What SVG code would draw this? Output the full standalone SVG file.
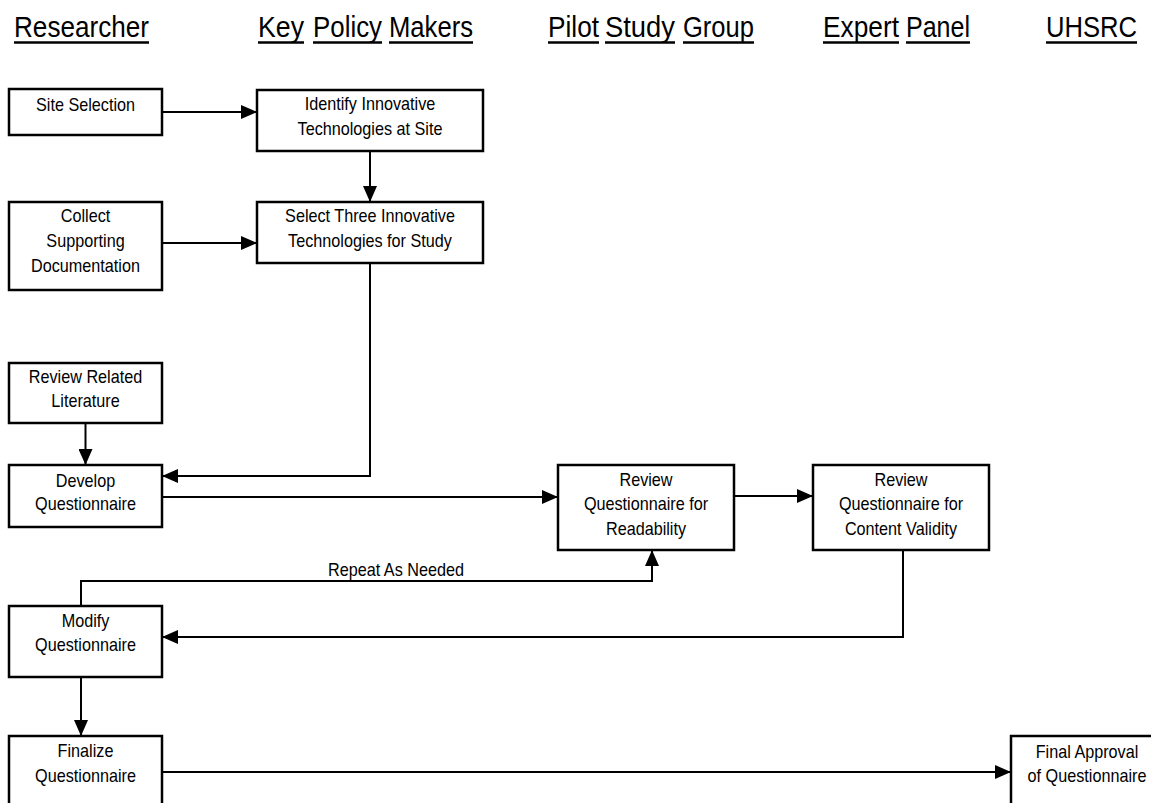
<svg xmlns="http://www.w3.org/2000/svg" width="1151" height="803" viewBox="0 0 1151 803">
  <style>
    .hdr { font-family: "Liberation Sans", Arial, sans-serif; font-size: 29px; fill: #000; }
    .ul { stroke: #000; stroke-width: 2.5; }
    .box { fill: #fff; stroke: #000; stroke-width: 2.5; }
    .lbl { font-family: "Liberation Sans", Arial, sans-serif; font-size: 18px; fill: #000; text-anchor: middle; }
    .edge { fill: none; stroke: #000; stroke-width: 2; }
  </style>
  <defs>
    <marker id="arrow" viewBox="0 0 16 14" refX="16" refY="7" markerWidth="16" markerHeight="14" markerUnits="userSpaceOnUse" orient="auto">
      <path d="M0,0 L16,7 L0,14 z" fill="#000"/>
    </marker>
  </defs>

  <rect width="1151" height="803" fill="#fff"/>

  <!-- swimlane headings, each word underlined on its own -->
  <g id="headers">
    <text class="hdr" x="14" y="37" textLength="135" lengthAdjust="spacingAndGlyphs">Researcher</text>
    <line class="ul" x1="14" y1="42.5" x2="149" y2="42.5"/>
    <text class="hdr" x="258" y="37" textLength="46" lengthAdjust="spacingAndGlyphs">Key</text>
    <line class="ul" x1="258" y1="42.5" x2="304" y2="42.5"/>
    <text class="hdr" x="313" y="37" textLength="69" lengthAdjust="spacingAndGlyphs">Policy</text>
    <line class="ul" x1="313" y1="42.5" x2="382" y2="42.5"/>
    <text class="hdr" x="389" y="37" textLength="84" lengthAdjust="spacingAndGlyphs">Makers</text>
    <line class="ul" x1="389" y1="42.5" x2="473" y2="42.5"/>
    <text class="hdr" x="548" y="37" textLength="51" lengthAdjust="spacingAndGlyphs">Pilot</text>
    <line class="ul" x1="548" y1="42.5" x2="599" y2="42.5"/>
    <text class="hdr" x="605" y="37" textLength="70" lengthAdjust="spacingAndGlyphs">Study</text>
    <line class="ul" x1="605" y1="42.5" x2="675" y2="42.5"/>
    <text class="hdr" x="683" y="37" textLength="71" lengthAdjust="spacingAndGlyphs">Group</text>
    <line class="ul" x1="683" y1="42.5" x2="754" y2="42.5"/>
    <text class="hdr" x="823" y="37" textLength="76" lengthAdjust="spacingAndGlyphs">Expert</text>
    <line class="ul" x1="823" y1="42.5" x2="899" y2="42.5"/>
    <text class="hdr" x="906" y="37" textLength="64" lengthAdjust="spacingAndGlyphs">Panel</text>
    <line class="ul" x1="906" y1="42.5" x2="970" y2="42.5"/>
    <text class="hdr" x="1046" y="37" textLength="91" lengthAdjust="spacingAndGlyphs">UHSRC</text>
    <line class="ul" x1="1046" y1="42.5" x2="1137" y2="42.5"/>
  </g>

  <!-- connectors -->
  <g id="connectors">
    <path class="edge" d="M162,112 H257" marker-end="url(#arrow)"/>
    <path class="edge" d="M370,151 V202" marker-end="url(#arrow)"/>
    <path class="edge" d="M162,243 H257" marker-end="url(#arrow)"/>
    <path class="edge" d="M370,263 V476 H162" marker-end="url(#arrow)"/>
    <path class="edge" d="M85.5,423 V465" marker-end="url(#arrow)"/>
    <path class="edge" d="M162,497 H558" marker-end="url(#arrow)"/>
    <path class="edge" d="M734,496 H813" marker-end="url(#arrow)"/>
    <path class="edge" d="M81,606 V581 H652 V550" marker-end="url(#arrow)"/>
    <path class="edge" d="M903,550 V637 H162" marker-end="url(#arrow)"/>
    <path class="edge" d="M81,677 V736" marker-end="url(#arrow)"/>
    <path class="edge" d="M162,772 H1011" marker-end="url(#arrow)"/>
    <text class="lbl" transform="translate(396 0) scale(0.9 1)" x="0" y="576">Repeat As Needed</text>
  </g>

  <g id="site-selection">
    <rect class="box" x="9" y="89" width="153" height="46"/>
    <text class="lbl" transform="translate(85.5 0) scale(0.9 1)" x="0" y="111">Site Selection</text>
  </g>

  <g id="identify-technologies">
    <rect class="box" x="257" y="90" width="226" height="61"/>
    <text class="lbl" transform="translate(370 0) scale(0.9 1)"><tspan x="0" y="110">Identify Innovative</tspan><tspan x="0" y="135">Technologies at Site</tspan></text>
  </g>

  <g id="collect-documentation">
    <rect class="box" x="9" y="202" width="153" height="88"/>
    <text class="lbl" transform="translate(85.5 0) scale(0.9 1)"><tspan x="0" y="222">Collect</tspan><tspan x="0" y="247">Supporting</tspan><tspan x="0" y="272">Documentation</tspan></text>
  </g>

  <g id="select-technologies">
    <rect class="box" x="257" y="202" width="226" height="61"/>
    <text class="lbl" transform="translate(370 0) scale(0.9 1)"><tspan x="0" y="222">Select Three Innovative</tspan><tspan x="0" y="247">Technologies for Study</tspan></text>
  </g>

  <g id="review-literature">
    <rect class="box" x="9" y="363" width="153" height="60"/>
    <text class="lbl" transform="translate(85.5 0) scale(0.9 1)"><tspan x="0" y="383">Review Related</tspan><tspan x="0" y="407">Literature</tspan></text>
  </g>

  <g id="develop-questionnaire">
    <rect class="box" x="9" y="465" width="153" height="62"/>
    <text class="lbl" transform="translate(85.5 0) scale(0.9 1)"><tspan x="0" y="487">Develop</tspan><tspan x="0" y="510">Questionnaire</tspan></text>
  </g>

  <g id="review-readability">
    <rect class="box" x="558" y="465" width="176" height="85"/>
    <text class="lbl" transform="translate(646 0) scale(0.9 1)"><tspan x="0" y="486">Review</tspan><tspan x="0" y="510">Questionnaire for</tspan><tspan x="0" y="535">Readability</tspan></text>
  </g>

  <g id="review-content-validity">
    <rect class="box" x="813" y="465" width="176" height="85"/>
    <text class="lbl" transform="translate(901 0) scale(0.9 1)"><tspan x="0" y="486">Review</tspan><tspan x="0" y="510">Questionnaire for</tspan><tspan x="0" y="535">Content Validity</tspan></text>
  </g>

  <g id="modify-questionnaire">
    <rect class="box" x="9" y="606" width="153" height="71"/>
    <text class="lbl" transform="translate(85.5 0) scale(0.9 1)"><tspan x="0" y="627">Modify</tspan><tspan x="0" y="651">Questionnaire</tspan></text>
  </g>

  <g id="finalize-questionnaire">
    <rect class="box" x="9" y="736" width="153" height="80"/>
    <text class="lbl" transform="translate(85.5 0) scale(0.9 1)"><tspan x="0" y="757">Finalize</tspan><tspan x="0" y="782">Questionnaire</tspan></text>
  </g>

  <g id="final-approval">
    <rect class="box" x="1011" y="736" width="153" height="80"/>
    <text class="lbl" transform="translate(1087 0) scale(0.9 1)"><tspan x="0" y="758">Final Approval</tspan><tspan x="0" y="782">of Questionnaire</tspan></text>
  </g>
</svg>
